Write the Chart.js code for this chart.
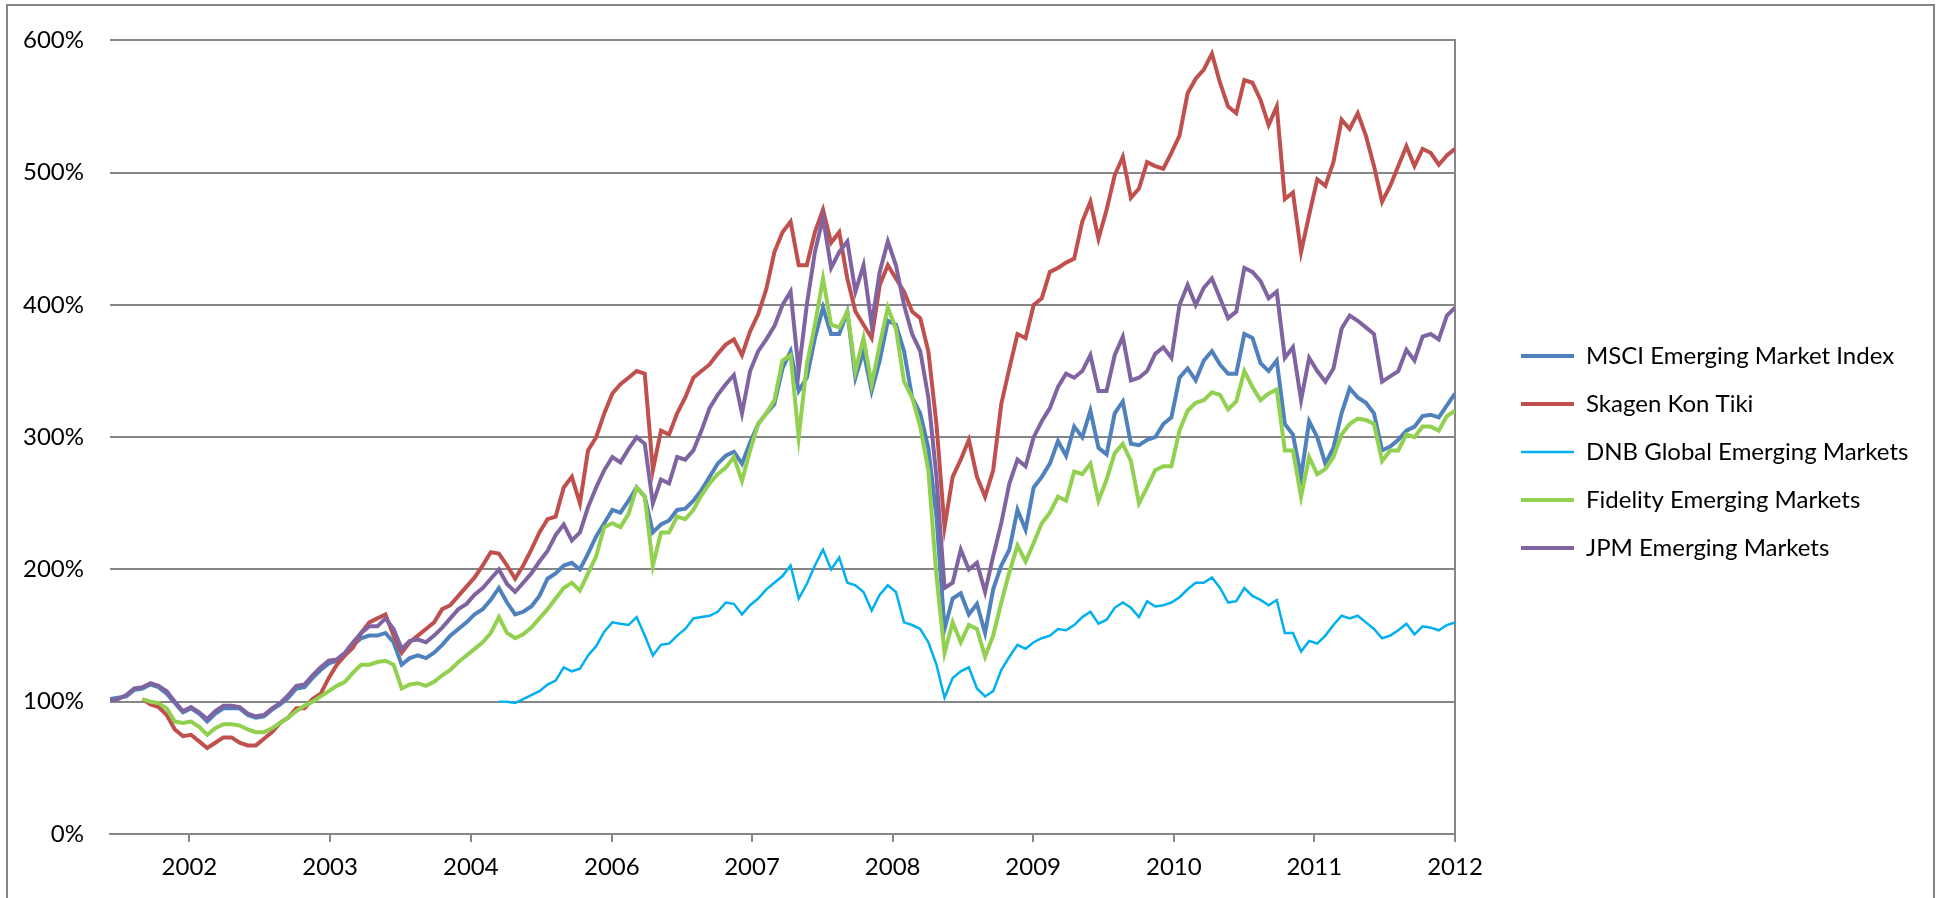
<!DOCTYPE html>
<html lang="en">
<head>
    <meta charset="UTF-8">
    <title>Emerging Markets Funds</title>
    <script src="https://cdn.jsdelivr.net/npm/chart.js"></script>
    <style>
        body {
            margin: 0;
            background: #fff;
        }
        .chart-box {
            position: relative;
            width: 1941px;
            height: 898px;
        }
    </style>
</head>
<body>
    <div class="chart-box"><canvas id="chart"></canvas></div>

    <script>
        // x is a week index along the category axis, one reading every 3 weeks
        const stepWeeks = 3;
        const tickWeeks = [29.4, 81.5, 133.6, 185.8, 237.7, 289.8, 341.8, 393.9, 445.9, 498];
        const tickLabels = ['2002', '2003', '2004', '2006', '2007', '2008', '2009', '2010', '2011', '2012'];
        const yTicks = [0, 100, 200, 300, 400, 500, 600];

        const seriesNames = ['MSCI Emerging Market Index', 'Skagen Kon Tiki', 'DNB Global Emerging Markets', 'Fidelity Emerging Markets', 'JPM Emerging Markets'];
        const startWeeks = [0, 12, 144, 12, 0];

        const msci = [102,103,104,109,110,113,111,106,99,92,95,91,85,91,95,95,95,90,88,89,94,98,103,110,111,118,124,129,131,136,
            143,148,150,150,152,145,128,133,135,133,137,143,150,155,160,166,170,177,186,175,166,168,172,180,193,
            197,203,205,200,212,225,235,245,243,252,262,255,228,234,237,245,246,252,260,270,280,286,289,280,296,310,318,325,352,365,
            335,345,375,398,378,378,395,345,365,335,358,388,385,365,330,318,292,240,155,178,182,166,174,152,
            185,203,215,245,230,262,270,280,297,286,308,300,320,292,287,318,327,295,294,298,300,310,315,345,352,343,358,365,355,348,
            348,378,375,356,350,358,310,302,270,312,300,280,292,318,337,330,326,318,290,293,298,305,308,316,317,315,324,333];

        const skagen = [102,98,96,90,79,74,75,70,65,69,73,73,69,67,67,72,77,84,88,95,95,102,106,118,128,135,141,152,160,163,
            166,150,137,145,150,155,160,170,173,180,187,194,203,213,212,203,193,203,215,228,238,
            240,262,270,250,290,300,318,333,340,345,350,348,275,305,302,318,330,345,350,355,363,370,374,362,380,393,412,440,455,463,
            430,430,455,472,447,455,420,395,385,375,415,430,420,410,395,390,365,310,232,270,283,298,270,255,
            275,325,352,378,375,400,405,425,428,432,435,463,478,450,472,498,512,481,488,508,505,503,515,528,560,571,578,590,568,550,
            545,570,568,555,536,550,480,485,440,468,495,490,508,540,533,545,528,505,478,490,505,520,505,518,515,506,513,518];

        const dnb = [100,100,99,102,105,108,113,116,126,123,125,135,142,153,160,159,158,164,150,135,143,144,150,155,163,164,165,168,175,174,
            166,173,178,185,190,195,203,178,189,203,215,200,209,190,188,183,169,181,188,183,160,158,155,145,128,103,118,123,126,110,104,
            108,124,134,143,140,145,148,150,155,154,158,164,168,159,162,171,175,171,164,176,172,173,175,179,185,190,190,194,186,175,
            176,186,180,177,173,177,152,152,138,146,144,150,158,165,163,165,160,155,148,150,154,159,151,157,156,154,158,160];

        const fidelity = [102,100,99,95,85,84,85,81,75,80,83,83,82,79,77,77,80,84,88,93,97,100,104,108,112,115,122,128,128,130,
            131,128,110,113,114,112,115,120,124,130,135,140,145,152,164,152,148,151,156,163,170,
            178,186,190,184,197,210,232,235,232,242,262,255,203,228,228,240,238,245,256,265,272,277,285,267,290,310,318,328,358,362,
            300,355,385,420,385,383,395,350,375,340,370,398,382,342,330,308,275,195,137,160,145,158,155,134,
            150,175,198,218,206,220,235,243,255,252,274,272,280,252,268,288,295,282,250,262,275,278,278,305,320,326,328,334,332,321,
            327,350,338,328,333,336,290,290,255,285,272,276,285,302,310,314,313,310,282,290,290,302,300,308,308,305,316,320];

        const jpm = [101,102,105,110,111,114,112,108,100,93,96,92,87,93,97,97,96,91,89,90,95,99,105,112,113,120,126,131,132,137,
            145,152,157,157,163,155,140,146,147,145,150,156,163,170,174,181,186,193,200,189,183,190,197,206,214,
            226,234,222,228,247,262,275,285,281,291,300,295,250,268,265,285,283,290,305,322,332,340,347,318,350,365,374,384,400,410,
            350,400,440,466,428,440,448,410,430,385,425,448,430,400,378,365,330,270,186,190,215,200,205,183,
            210,235,265,283,278,300,312,322,338,348,345,350,362,335,335,362,376,343,345,350,363,368,360,400,415,400,413,420,405,390,
            395,428,425,418,405,410,360,368,328,360,350,342,352,382,392,388,383,378,342,346,350,366,358,376,378,374,392,398];

        const seriesColors = ['#4F81BD', '#C0504D', '#00B0F0', '#92D050', '#8064A2'];
        const lineWidths = [4, 4, 2.5, 4, 4];
        const gridColor = '#868686';
        const labelFont = { family: 'Lato', size: 24 };
        const legendWidth = 444;
        const legendLift = 14;

        function toPoints(values, startWeek) {
            return values.map((v, i) => ({ x: startWeek + i * stepWeeks, y: v }));
        }

        const datasets = [msci, skagen, dnb, fidelity, jpm].map((values, i) => ({
            label: seriesNames[i],
            data: toPoints(values, startWeeks[i]),
            borderColor: seriesColors[i],
            backgroundColor: seriesColors[i],
            borderWidth: lineWidths[i],
            pointRadius: 0,
            tension: 0,
            order: 5 - i // later series drawn on top, like the original
        }));

        // fixed legend column width so the plot ends where it should, and nudge it up a bit
        const fixedLegend = {
            id: 'fixedLegend',
            beforeLayout(chart) {
                const legend = chart.legend;
                if (legend && !legend._fixed) {
                    const fit = legend.fit;
                    legend.fit = function () {
                        fit.call(this);
                        this.width = legendWidth;
                    };
                    legend._fixed = true;
                }
            },
            afterLayout(chart) {
                chart.legend.top -= legendLift;
                chart.legend.bottom -= legendLift;
            }
        };

        const frame = {
            id: 'frame',
            afterDraw(chart) {
                const ctx = chart.ctx;
                ctx.save();
                ctx.strokeStyle = gridColor;
                ctx.lineWidth = 2;
                ctx.strokeRect(7, 5, chart.width - 14, chart.height + 20);
                ctx.restore();
            }
        };

        new Chart(document.getElementById('chart'), {
            type: 'line',
            data: { datasets },
            plugins: [fixedLegend, frame],
            options: {
                responsive: true,
                maintainAspectRatio: false,
                animation: false,
                layout: { padding: { top: 34, left: 0, right: 0, bottom: 0 } },
                plugins: {
                    legend: {
                        position: 'right',
                        labels: {
                            usePointStyle: true,
                            pointStyle: 'line',
                            pointStyleWidth: 53,
                            padding: 24,
                            color: '#000',
                            font: labelFont,
                            sort: (a, b) => a.datasetIndex - b.datasetIndex
                        }
                    },
                    tooltip: { enabled: false }
                },
                scales: {
                    x: {
                        type: 'linear',
                        min: 0,
                        max: 498,
                        afterBuildTicks: scale => {
                            scale.ticks = tickWeeks.map(v => ({ value: v }));
                        },
                        afterFit: scale => { scale.height = 64; },
                        ticks: {
                            autoSkip: false,
                            maxRotation: 0,
                            padding: 11,
                            color: '#000',
                            font: labelFont,
                            callback: (value, i) => tickLabels[i]
                        },
                        grid: { drawOnChartArea: false, drawTicks: true, tickLength: 8, color: gridColor, lineWidth: 2 },
                        border: { display: true, color: gridColor, width: 2 }
                    },
                    y: {
                        min: 0,
                        max: 600,
                        afterBuildTicks: scale => {
                            scale.ticks = yTicks.map(v => ({ value: v }));
                        },
                        afterFit: scale => { scale.width = 110; },
                        ticks: {
                            padding: 26,
                            color: '#000',
                            font: labelFont,
                            callback: value => value + '%'
                        },
                        grid: { color: gridColor, lineWidth: 2, drawTicks: false },
                        border: { display: false }
                    },
                    y2: {
                        position: 'right',
                        afterFit: scale => { scale.width = 42; },
                        ticks: { display: false },
                        grid: { drawOnChartArea: false, drawTicks: false },
                        border: { display: true, color: gridColor, width: 2 }
                    }
                }
            }
        });
    </script>
</body>
</html>
